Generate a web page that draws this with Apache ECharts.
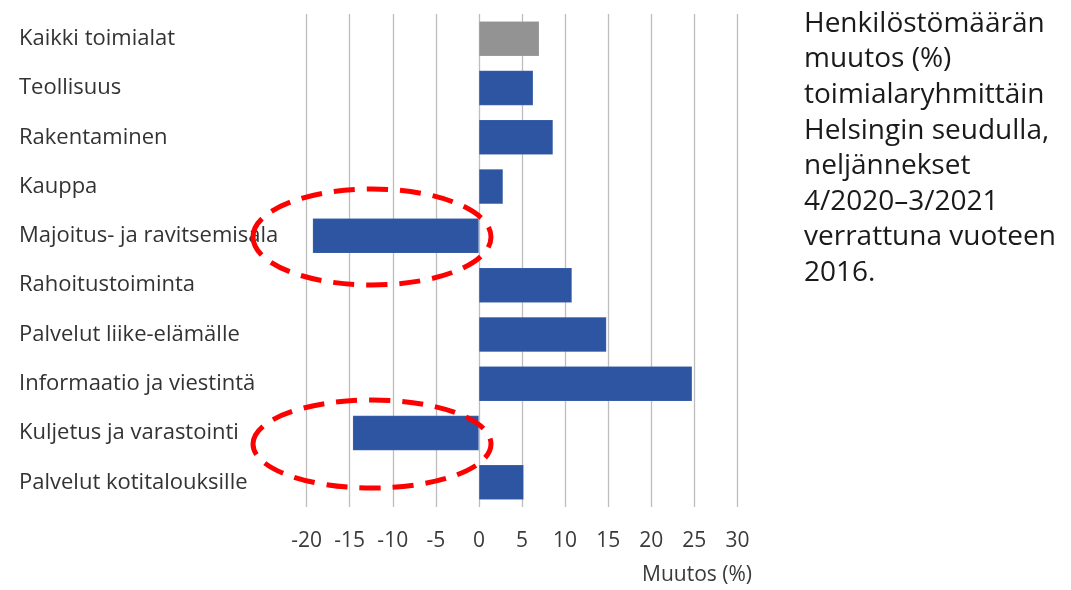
<!DOCTYPE html>
<html>
<head>
<meta charset="utf-8">
<script src="https://cdn.jsdelivr.net/npm/echarts@6/dist/echarts.min.js"></script>
<style>
html,body{margin:0;padding:0;background:#fff;}
#chart{width:1071px;height:590px;}
</style>
</head>
<body>
<div id="chart"></div>
<script>
const categories = [
  "Kaikki toimialat",
  "Teollisuus",
  "Rakentaminen",
  "Kauppa",
  "Majoitus- ja ravitsemisala",
  "Rahoitustoiminta",
  "Palvelut liike-elämälle",
  "Informaatio ja viestintä",
  "Kuljetus ja varastointi",
  "Palvelut kotitalouksille"
];
const values = [7.0, 6.3, 8.6, 2.8, -19.3, 10.8, 14.8, 24.75, -14.65, 5.2];
const xTicks = [-20, -15, -10, -5, 0, 5, 10, 15, 20, 25, 30];
const titleLines = [
  "Henkilöstömäärän",
  "muutos (%)",
  "toimialaryhmittäin",
  "Helsingin seudulla,",
  "neljännekset",
  "4/2020–3/2021",
  "verrattuna vuoteen",
  "2016."
];
const axisName = "Muutos (%)";

const FONT = "Open Sans";
const chart = echarts.init(document.getElementById('chart'), null, {renderer: 'canvas'});

const gridLeft = 306.6, gridRight = 1071 - 737.4, gridTop = 14, gridBottom = 590 - 507;

chart.setOption({
  animation: false,
  backgroundColor: '#ffffff',
  grid: {left: gridLeft, right: gridRight, top: gridTop, bottom: gridBottom, containLabel: false},
  xAxis: {
    type: 'value',
    min: xTicks[0],
    max: xTicks[xTicks.length - 1],
    interval: 5,
    axisLine: {show: false},
    axisTick: {show: false},
    splitLine: {show: true, lineStyle: {color: '#bdbdbd', width: 1.3}},
    axisLabel: {
      margin: 24,
      fontFamily: FONT,
      fontSize: 21,
      color: '#3a3a3a'
    }
  },
  yAxis: {
    type: 'category',
    data: categories,
    inverse: true,
    axisLine: {show: false},
    axisTick: {show: false},
    splitLine: {show: false},
    axisLabel: {
      align: 'left',
      margin: gridLeft - 19,
      fontFamily: FONT,
      fontSize: 22,
      color: '#333333',
      padding: [0, 0, 4, 0]
    }
  },
  series: [{
    type: 'bar',
    data: values.map((v, i) => ({
      value: v,
      itemStyle: {color: i === 0 ? '#939393' : '#2e55a2'}
    })),
    barWidth: 35,
    itemStyle: {borderColor: 'rgba(255,255,255,0.25)', borderWidth: 0.5}
  }],
  graphic: [
    {
      type: 'text',
      left: 804,
      top: 6,
      style: {
        text: titleLines.join('\n'),
        fontFamily: FONT,
        fontSize: 28,
        lineHeight: 35.6,
        fill: '#1a1a1a'
      }
    },
    {
      type: 'text',
      right: 1071 - 752,
      top: 565,
      style: {
        text: axisName,
        fontFamily: FONT,
        fontSize: 21,
        fill: '#3a3a3a'
      }
    },
    {
      type: 'ellipse',
      shape: {cx: 372, cy: 237, rx: 119, ry: 48},
      style: {fill: 'none', stroke: '#ff0000', lineWidth: 5, lineDash: [21, 12]},
      z: 100
    },
    {
      type: 'ellipse',
      shape: {cx: 372, cy: 444, rx: 119, ry: 44},
      style: {fill: 'none', stroke: '#ff0000', lineWidth: 5, lineDash: [21, 12]},
      z: 100
    }
  ]
});
</script>
</body>
</html>
